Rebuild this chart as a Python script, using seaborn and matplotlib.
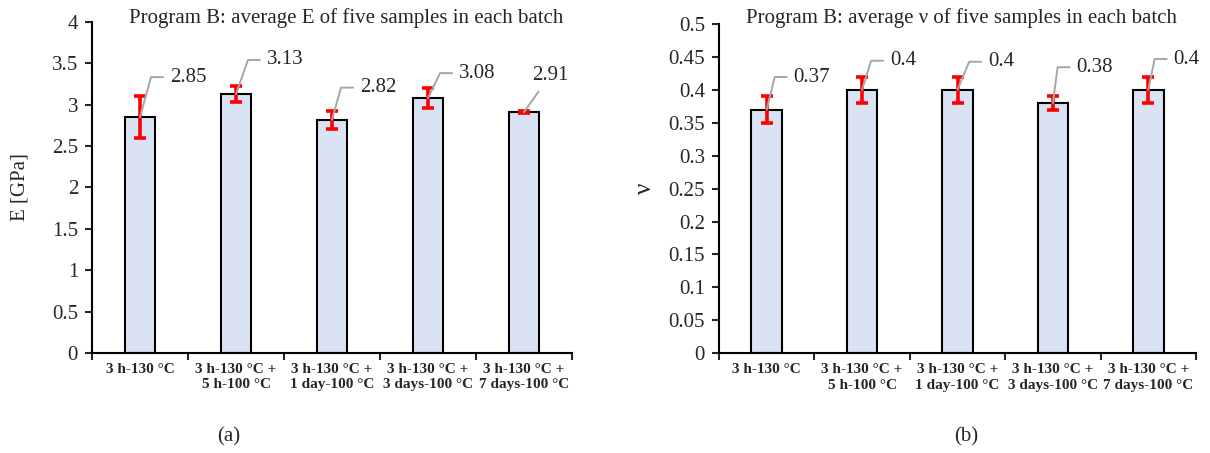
import math
import numpy as np
import seaborn as sns
import matplotlib
matplotlib.use("Agg")
import matplotlib.pyplot as plt
from matplotlib.ticker import FuncFormatter, FixedLocator

# data
batches = ["3 h-130 °C", "3 h-130 °C +\n5 h-100 °C", "3 h-130 °C +\n1 day-100 °C",
           "3 h-130 °C +\n3 days-100 °C", "3 h-130 °C +\n7 days-100 °C"]
E_mean = [2.85, 3.13, 2.82, 3.08, 2.91]
E_err = [0.25, 0.10, 0.11, 0.12, 0.01]
nu_mean = [0.37, 0.40, 0.40, 0.38, 0.40]
nu_err = [0.02, 0.02, 0.02, 0.01, 0.02]
E_labels = ["2.85", "3.13", "2.82", "3.08", "2.91"]
nu_labels = ["0.37", "0.4", "0.4", "0.38", "0.4"]

# label placement (pixels: text start x offset, y offset)
E_offsets = [(30, 40), (31, 34), (28, 32), (31, 25), None]
nu_offsets = [(27, 32.5), (28, 29), (30.7, 28), (23.7, 35.7), (25.3, 30.7)]

sns.set_style("ticks")
plt.rcParams["font.family"] = ["Liberation Serif", "DejaVu Serif"]

BAR = "#DAE3F3"
GREY = "#A6A6A6"
PX = 0.72  # points per pixel at dpi 100

fig = plt.figure(figsize=(12.1, 4.53), dpi=100)
axE = fig.add_axes([92 / 1210, 0.2208, 480 / 1210, 0.7307])
axN = fig.add_axes([719 / 1210, 0.2200, 477 / 1210, 0.7274])


def draw(ax, means, errs, labels, offsets, ymax, ystep):
    sns.barplot(x=batches, y=means, ax=ax, width=0.32, color=BAR, saturation=1,
                edgecolor="black", linewidth=1.5, errorbar=None)
    ax.errorbar(range(len(means)), means, yerr=errs, fmt="none", ecolor="red",
                elinewidth=2.6, capsize=4, capthick=2.6, zorder=3)
    ax.set_xlim(-0.5, len(means) - 0.5)
    ax.set_ylim(0, ymax)
    ax.set_yticks(np.arange(0, ymax + ystep / 2, ystep))
    ax.yaxis.set_major_formatter(FuncFormatter(lambda v, p: f"{v:g}"))
    ax.xaxis.set_minor_locator(FixedLocator(np.arange(-0.5, len(means), 1.0)))
    ax.tick_params(axis="x", which="major", length=0, pad=7, labelsize=11)
    ax.tick_params(axis="x", which="minor", length=5, width=1.5, direction="out")
    ax.tick_params(axis="y", length=5, width=1.5, pad=5, labelsize=15)
    for t in ax.get_xticklabels():
        t.set_fontweight("bold")
        t.set_multialignment("center")
        t.set_linespacing(1.25)
    for s in ["top", "right"]:
        ax.spines[s].set_visible(False)
    for s in ["left", "bottom"]:
        ax.spines[s].set_linewidth(1.5)
        ax.spines[s].set_color("black")
    ax.set_xlabel("")

    for i, (m, lab, off) in enumerate(zip(means, labels, offsets)):
        if off is None:
            ax.annotate(lab, xy=(i, m), xytext=(26 * PX, 37 * PX), textcoords="offset points",
                        ha="center", va="center", fontsize=15,
                        arrowprops=dict(arrowstyle="-", color=GREY, lw=1.4,
                                        shrinkA=3, shrinkB=0))
            continue
        dx, dy = off
        ang = math.degrees(math.atan2(dy, dx - 19))
        ax.annotate(lab, xy=(i, m), xytext=(dx * PX, dy * PX), textcoords="offset points",
                    ha="left", va="center", fontsize=15,
                    arrowprops=dict(arrowstyle="-", color=GREY, lw=1.4, relpos=(0, 0.5),
                                    patchA=None, shrinkA=5, shrinkB=0,
                                    connectionstyle=f"angle,angleA=0,angleB={ang},rad=0"))


draw(axE, E_mean, E_err, E_labels, E_offsets, 4, 0.5)
draw(axN, nu_mean, nu_err, nu_labels, nu_offsets, 0.5, 0.05)

axE.set_ylabel("E [GPa]", fontsize=15)
axE.yaxis.set_label_coords(-62 / 480, 0.5)
axN.set_ylabel("ν", fontsize=18)
axN.yaxis.set_label_coords(-0.132, 0.5)

fig.text(346 / 1210, 1 - 18 / 453, "Program B: average E of five samples in each batch",
         ha="center", va="center", fontsize=15)
fig.text(962 / 1210, 1 - 18 / 453, "Program B: average ν of five samples in each batch",
         ha="center", va="center", fontsize=15)
fig.text(229 / 1210, 1 - 437 / 453, "(a)", ha="center", va="center", fontsize=15)
fig.text(966 / 1210, 1 - 437 / 453, "(b)", ha="center", va="center", fontsize=15)

fig.savefig("out.png", dpi=100)
